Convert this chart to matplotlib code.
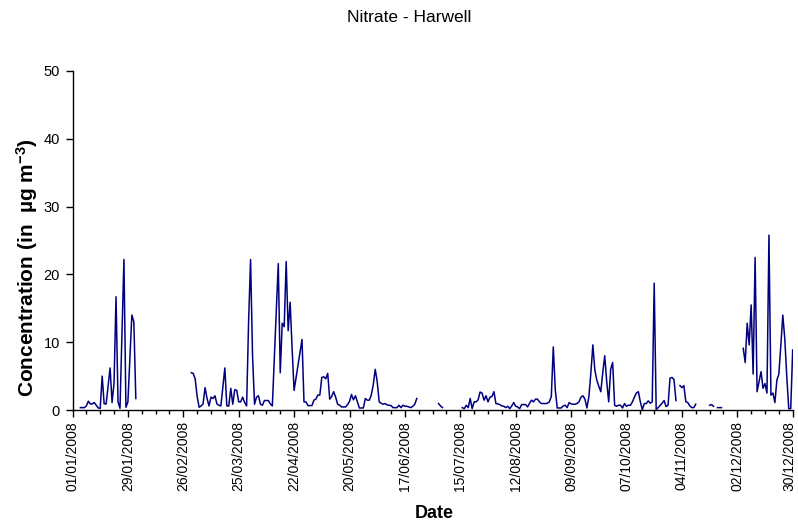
import numpy as np
import pandas as pd
import matplotlib
matplotlib.use("Agg")
import matplotlib.pyplot as plt
import matplotlib.dates as mdates
import matplotlib.transforms as mtransforms

plt.rcParams['font.family'] = ['Liberation Sans', 'DejaVu Sans']
plt.rcParams['mathtext.fontset'] = 'custom'
plt.rcParams['mathtext.bf'] = 'Liberation Sans:bold'
plt.rcParams['mathtext.rm'] = 'Liberation Sans'
plt.rcParams['mathtext.default'] = 'bf'

# Daily nitrate concentrations at Harwell, 2008 (µg m-3).
# Each run of consecutive days starts at the given date; other days are missing.
run_starts = ["2008-01-05", "2008-03-01", "2008-07-04", "2008-07-16",
              "2008-11-03", "2008-11-18", "2008-11-22", "2008-12-05"]

run_jan = [0.35, 0.35, 0.35, 0.6, 1.3, 0.9, 0.9, 1.1, 0.7, 0.3, 0.25, 5.0,
           0.9, 0.9, 3.5, 6.2, 1.1, 4.0, 16.7, 1.2, 0.25, 11.0, 22.2, 0.4,
           1.2, 7.5, 14.0, 13.0, 1.7]

run_spring = [5.5, 5.4, 4.6, 2.0, 0.4, 0.6, 0.9, 3.3, 1.7, 0.6, 1.9, 1.7,
              2.1, 0.9, 0.7, 0.6, 3.4, 6.2, 0.6, 0.6, 3.2, 0.85, 3.0, 2.9,
              1.2, 1.2, 1.9, 1.1, 0.6, 13.0, 22.2, 8.0, 0.85, 1.9, 2.1, 0.85,
              0.7, 1.4, 1.4, 1.4, 0.9, 0.6, 7.5, 14.5, 21.6, 5.5, 12.8, 12.3,
              21.9, 11.7, 15.9, 9.0, 2.9, 4.8, 6.7, 8.6, 10.4, 1.2, 1.2, 0.65,
              0.65, 0.65, 1.45, 1.6, 2.2, 2.2, 4.8, 4.9, 4.6, 5.4, 1.6, 2.0,
              2.7, 1.9, 0.85, 0.7, 0.45, 0.45, 0.45, 0.8, 1.25, 2.3, 1.5, 2.1,
              1.2, 0.3, 0.3, 0.3, 1.7, 1.45, 1.45, 2.2, 3.7, 6.0, 4.2, 1.2,
              1.0, 0.85, 0.95, 0.75, 0.7, 0.65, 0.35, 0.35, 0.35, 0.7, 0.35,
              0.7, 0.55, 0.55, 0.45, 0.35, 0.55, 0.85, 1.7]

run_july_a = [0.95, 0.6, 0.35]

run_summer = [0.35, 0.2, 0.7, 0.35, 1.7, 0.2, 1.2, 1.2, 1.5, 2.65, 2.5, 1.45,
              2.1, 1.2, 1.9, 2.0, 2.7, 0.95, 0.9, 0.8, 0.6, 0.55, 0.35, 0.55,
              0.2, 0.6, 1.1, 0.55, 0.45, 0.2, 0.8, 0.8, 0.8, 0.45, 1.0, 1.45,
              1.2, 1.6, 1.6, 1.2, 0.95, 0.95, 0.95, 1.0, 1.2, 2.0, 9.3, 3.0,
              0.3, 0.3, 0.3, 0.6, 0.7, 0.35, 1.1, 0.9, 0.85, 0.85, 0.95, 1.2,
              1.9, 2.1, 1.6, 0.3, 2.0, 5.5, 9.6, 5.9, 4.4, 3.5, 2.7, 5.5, 8.0,
              4.2, 1.2, 6.0, 7.0, 0.7, 0.55, 0.7, 0.7, 0.3, 0.95, 0.55, 0.7,
              0.7, 1.2, 1.9, 2.5, 2.7, 1.2, 0.05, 0.95, 0.95, 1.35, 1.0, 1.2,
              18.7, 0.05, 0.35, 0.7, 1.0, 1.4, 0.5, 0.7, 4.7, 4.8, 4.5, 1.4]

run_nov_a = [3.6, 3.3, 3.6, 1.2, 1.1, 0.6, 0.35, 0.35, 0.85]
run_nov_b = [0.7, 0.8, 0.55]
run_nov_c = [0.35, 0.35, 0.35]

run_dec = [9.1, 7.0, 12.8, 9.6, 15.5, 5.3, 22.5, 2.7, 4.2, 5.65, 3.2, 3.9,
           2.5, 25.8, 2.2, 2.5, 1.1, 4.4, 5.3, 9.5, 14.0, 10.5, 5.0, 0.2,
           0.2, 8.85]

runs = [run_jan, run_spring, run_july_a, run_summer,
        run_nov_a, run_nov_b, run_nov_c, run_dec]

days = pd.date_range("2008-01-01", "2008-12-31", freq="D")
nitrate = pd.Series(np.nan, index=days)
for start, vals in zip(run_starts, runs):
    idx = pd.date_range(start, periods=len(vals), freq="D")
    nitrate.loc[idx] = vals

y_ticks = [0, 10, 20, 30, 40, 50]
major_dates = pd.date_range("2008-01-01", "2008-12-30", freq="28D")
minor_dates = pd.date_range("2008-01-01", "2008-12-30", freq="7D")

fig = plt.figure(figsize=(7.98, 5.24), dpi=100)
ax = fig.add_axes([72.5 / 798, 1 - 410 / 524, (792.7 - 72.5) / 798, (410 - 71) / 524])

ax.plot(nitrate.index, nitrate.values, color="#000080", lw=1.1)

ax.set_xlim(pd.Timestamp("2008-01-01"), pd.Timestamp("2008-12-30"))
ax.set_ylim(0, 50)
ax.set_yticks(y_ticks)
ax.xaxis.set_major_locator(matplotlib.ticker.FixedLocator(mdates.date2num(major_dates)))
ax.xaxis.set_minor_locator(matplotlib.ticker.FixedLocator(mdates.date2num(minor_dates)))
ax.xaxis.set_major_formatter(mdates.DateFormatter("%d/%m/%Y"))
ax.tick_params(axis="x", which="major", direction="out", length=5, width=1,
               labelsize=10, labelrotation=90, pad=3)
ax.tick_params(axis="x", which="minor", direction="out", length=3, width=1)
ax.tick_params(axis="y", direction="out", length=5, width=1, labelsize=10.5, pad=4)

for side in ("top", "right"):
    ax.spines[side].set_visible(False)
for side in ("left", "bottom"):
    ax.spines[side].set_linewidth(1.0)

# keep the last date label inside the figure edge
fig.canvas.draw()
last_label = ax.get_xticklabels()[-1]
last_label.set_transform(last_label.get_transform() +
                         mtransforms.ScaledTranslation(-3 / 100, 0, fig.dpi_scale_trans))

fig.text(409 / 798, 1 - 17.5 / 524, "Nitrate - Harwell", ha="center", va="center",
         fontsize=12.5)
fig.text(434 / 798, 1 - 513 / 524, "Date", ha="center", va="center",
         fontsize=13, fontweight="bold")
fig.text(27.5 / 798, 1 - 268 / 524, r"Concentration (in  µg m$^{-3}$)",
         ha="center", va="center", rotation=90, fontsize=15, fontweight="bold")

fig.savefig("out.png", dpi=100)
